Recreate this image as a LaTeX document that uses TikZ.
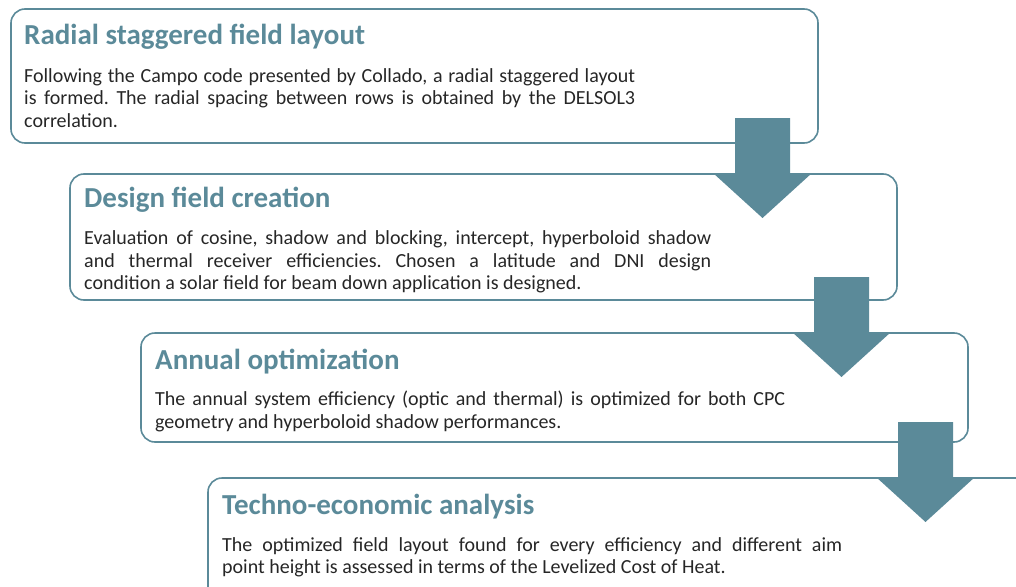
\documentclass[tikz,border=0pt]{standalone}
\usepackage{fontspec}
\setmainfont{Carlito}
\usetikzlibrary{calc}

\definecolor{stageteal}{HTML}{5B8A99}
\definecolor{bodygray}{HTML}{262626}

\tikzset{
  stage/.style={draw=stageteal, line width=1.6pt, rounded corners=14pt,
    anchor=north west, inner sep=0pt, outer sep=0pt},
  title/.style={anchor=base west, inner sep=0pt, text=stageteal,
    font=\fontsize{29}{32}\selectfont\bfseries},
  body/.style={anchor=base west, inner sep=0pt, text=bodygray,
    font=\fontsize{20}{22}\selectfont\frenchspacing}
}

% block arrow from box #1 down onto box #2, shaft centre #3 left of #1's right side
\newcommand{\stagearrow}[3]{%
  \fill[stageteal] let \p1=(#1.south east), \p2=(#2.north) in
    (\x1-#3pt-27.5pt,\y2+56pt) -- (\x1-#3pt+27.5pt,\y2+56pt)
    -- (\x1-#3pt+27.5pt,\y2+1pt) -- (\x1-#3pt+49.5pt,\y2+1pt)
    -- (\x1-#3pt,\y2-44pt) -- (\x1-#3pt-49.5pt,\y2+1pt)
    -- (\x1-#3pt-27.5pt,\y2+1pt) -- cycle;}

\begin{document}
\begin{tikzpicture}[x=1pt,y=-1pt]
\useasboundingbox (0,0) rectangle (1016,586);
\clip (0,0) rectangle (1016,586);

% the four stages
\node[stage, minimum width=807, minimum height=134] (radial) at (11,9) {};
\node[stage, minimum width=827, minimum height=126] (design) at (70,174) {};
\node[stage, minimum width=827, minimum height=109] (annual) at (141,333) {};
\node[stage, minimum width=900, minimum height=200] (techno) at (208,478) {};

% stage 1
\node[title] (radial-t) at (24,45) {Radial staggered field layout};
\node[body] (radial-a) at (24,82) {\makebox[611pt][s]{Following the Campo code presented by Collado, a radial staggered layout}};
\node[body] (radial-b) at (24,104) {\makebox[611pt][s]{is formed. The radial spacing between rows is obtained by the DELSOL3}};
\node[body] (radial-c) at (24,127) {correlation.};

% stage 2
\node[title] (design-t) at (84,207) {Design field creation};
\node[body] (design-a) at (84,244) {\makebox[627pt][s]{Evaluation of cosine, shadow and blocking, intercept, hyperboloid shadow}};
\node[body] (design-b) at (84,267) {\makebox[627pt][s]{and thermal receiver efficiencies. Chosen a latitude and DNI design}};
\node[body] (design-c) at (84,289) {condition a solar field for beam down application is designed.};

% stage 3
\node[title] (annual-t) at (155,369) {Annual optimization};
\node[body] (annual-a) at (155,405) {\makebox[630pt][s]{The annual system efficiency (optic and thermal) is optimized for both CPC}};
\node[body] (annual-b) at (155,428) {geometry and hyperboloid shadow performances.};

% stage 4
\node[title] (techno-t) at (222,514) {Techno-economic analysis};
\node[body] (techno-a) at (222,551) {\makebox[620pt][s]{The optimized field layout found for every efficiency and different aim}};
\node[body] (techno-b) at (222,573) {point height is assessed in terms of the Levelized Cost of Heat.};

% arrows between stages
\stagearrow{radial}{design}{55.5}
\stagearrow{design}{annual}{55.5}
\stagearrow{annual}{techno}{42.5}
\end{tikzpicture}
\end{document}
